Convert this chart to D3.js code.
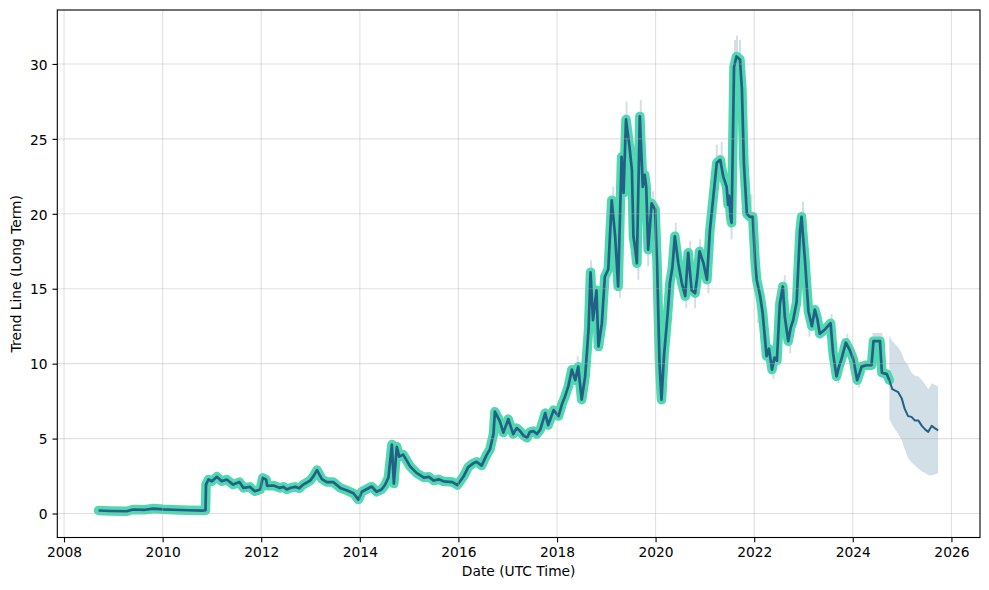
<!DOCTYPE html>
<html><head><meta charset="utf-8">
<script src="https://cdn.jsdelivr.net/npm/d3@7"></script>
<style>body{margin:0;background:#fff} text{font-family:"DejaVu Sans",sans-serif;}</style>
</head><body>
<svg id="c" width="989" height="590"></svg>
<script>
// ---- history (decimal year, value) ----
const years = [2008.70,2008.93,2009.27,2009.40,2009.64,2009.81,2010.01,2010.21,2010.52,2010.82,2010.87,
2010.88,2010.93,2011.00,2011.10,2011.20,2011.30,2011.43,2011.56,2011.64,2011.77,2011.87,2011.98,
2012.03,2012.10,2012.12,2012.25,2012.38,2012.45,2012.52,2012.60,2012.69,2012.77,2012.85,2012.99,2013.06,2013.13,2013.23,2013.33,
2013.46,2013.60,2013.73,2013.87,2013.97,2014.04,2014.24,2014.34,2014.44,2014.51,2014.58,2014.65,2014.69,
2014.75,2014.80,2014.88,2015.02,2015.15,2015.30,2015.40,2015.50,2015.60,2015.70,2015.88,2015.98,2016.10,2016.20,2016.30,2016.37,
2016.47,2016.57,2016.64,2016.71,2016.74,2016.84,2016.91,2017.01,2017.11,2017.18,2017.25,2017.32,2017.39,2017.45,2017.52,2017.59,2017.66,
2017.76,2017.82,2017.93,2018.03,2018.10,2018.16,2018.23,2018.30,2018.37,2018.43,2018.50,2018.57,2018.61,
2018.64,2018.68,2018.73,2018.80,2018.84,2018.91,2018.97,2019.04,2019.11,2019.18,2019.24,2019.31,2019.35,
2019.40,2019.47,2019.52,2019.55,2019.59,2019.62,2019.68,2019.74,2019.78,2019.81,2019.85,2019.92,2019.99,2020.03,2020.08,
2020.12,2020.17,2020.24,2020.29,2020.34,2020.39,2020.46,2020.53,2020.60,2020.66,2020.73,2020.80,2020.85,2020.89,2020.97,
2021.04,2021.10,2021.17,2021.24,2021.31,2021.37,2021.44,2021.47,2021.49,2021.52,2021.54,2021.59,2021.64,2021.71,2021.75,
2021.79,2021.85,2021.91,2021.97,2022.02,2022.05,2022.12,2022.17,2022.25,2022.30,2022.36,2022.41,2022.46,2022.52,2022.58,
2022.62,2022.69,2022.74,2022.79,2022.86,2022.93,2022.96,2023.03,2023.10,2023.17,2023.23,2023.28,2023.33,2023.44,2023.55,
2023.60,2023.67,2023.72,2023.77,2023.86,2023.94,2024.01,2024.09,2024.18,2024.28,2024.38,2024.42,2024.55,2024.59,
2024.69,2024.74];
const values = [0.2,0.17,0.15,0.27,0.25,0.33,0.28,0.25,0.22,0.2,0.22,
1.93,2.27,2.15,2.45,2.15,2.27,1.93,2.1,1.71,1.78,1.49,1.6,
2.38,2.27,1.85,1.87,1.71,1.78,1.6,1.72,1.78,1.68,1.93,2.2,2.5,2.9,2.3,2.1,
2.1,1.71,1.55,1.35,0.93,1.45,1.8,1.45,1.6,1.9,2.4,4.6,2.0,
4.45,3.8,3.93,3.15,2.71,2.4,2.45,2.2,2.28,2.15,2.1,1.9,2.45,3.1,3.35,3.45,
3.2,3.9,4.3,5.3,6.8,6.15,5.4,6.3,5.3,5.7,5.5,5.2,5.05,5.45,5.5,5.3,5.6,
6.7,5.9,6.9,6.5,7.3,7.8,8.5,9.6,8.9,9.8,7.6,9.15,10.9,
12.3,16.1,12.9,14.9,11.15,12.7,15.8,16.3,20.9,18.5,15.15,23.8,21.4,
26.3,24.5,22.9,18.5,17.6,16.7,26.5,21.8,22.6,21.8,17.6,20.7,20.3,16.7,10.0,
7.6,10.5,13.15,15.4,16.4,18.5,16.7,15.4,14.5,17.4,14.9,14.7,16.0,17.5,16.7,
15.6,18.9,21.15,23.4,23.6,22.5,21.8,20.6,21.2,19.8,19.4,29.8,30.5,30.3,28.3,
23.4,20.0,19.8,19.8,16.7,15.6,14.5,13.4,10.5,11.0,9.6,10.4,10.2,14.0,15.15,
13.15,11.5,12.4,12.9,14.1,18.9,19.8,16.9,13.5,12.5,13.6,13.0,12.0,12.3,12.7,
10.7,9.15,9.8,10.3,11.4,10.9,10.3,8.9,9.8,9.9,9.9,11.5,11.5,9.4,
9.3,8.9];

// ---- forecast ----
const fYears = [2024.74,2024.80,2024.86,2024.92,2024.99,2025.05,2025.12,2025.19,2025.26,2025.33,2025.40,2025.47,2025.53,2025.60,2025.66,2025.73];
const fValues = [8.9,8.3,8.2,8.1,7.7,7.0,6.5,6.45,6.2,6.2,5.85,5.6,5.45,5.85,5.7,5.55];
const fHigh = [11.9,11.5,11.3,11.1,10.7,10.2,9.9,9.4,9.2,9.15,8.9,8.6,8.3,8.7,8.6,8.5];
const fLow = [6.3,5.9,5.6,5.3,4.9,4.3,3.7,3.4,3.2,3.0,2.8,2.7,2.55,2.55,2.6,2.7];

// ---- visible uncertainty spikes in history ----
const spikeYears = [2018.42,2018.69,2019.14,2019.28,2019.41,2019.65,2019.70,2019.85,2019.95,2020.16,2020.41,2020.62,2020.70,2020.80,2020.90,2021.07,2021.24,2021.34,2021.54,2021.61,2021.65,2021.71,2021.94,2022.08,2022.39,2022.62,2022.73,2022.99,2023.12,2023.57,2023.71,2023.89,2024.13,2024.42,2024.46,2024.50,2024.54,2024.58];
const spikeLow = [9.5,15.5,20.5,14.4,25.5,15.6,25.5,16.5,20,7.27,18,13.7,16.5,13.7,17,14.7,23,23,18.3,29.5,30,29.5,19.5,12.7,9.0,14.5,10.7,19.5,11.8,12.3,8.7,11,8.4,11.3,11.3,11.3,11.3,11.3];
const spikeHigh = [10.5,16.9,21.8,15.5,27.5,17,27.6,18,21.5,8,19.4,14.8,18.2,15,18.3,16,24.6,24.8,19.5,31.6,31.9,31.6,21.3,14,10,15.9,12,20.8,13,13.3,9.5,12.0,9.2,12.05,12.05,12.05,12.05,12.05];

const xTicks = [2008,2010,2012,2014,2016,2018,2020,2022,2024,2026];
const yTicks = [0,5,10,15,20,25,30];

// ---- layout ----
const M = {l:57.3, r:980, t:10, b:537.5};
const lineCol = "#236086", greenCol = "#50d8b0", bandCol = "rgba(35,96,134,0.2)";
const FS = 13.8;

function toDate(v){const yr=Math.floor(v);const s=Date.UTC(yr,0,1),e=Date.UTC(yr+1,0,1);return new Date(s+(v-yr)*(e-s));}

const svg = d3.select("#c");
svg.append("rect").attr("width",989).attr("height",590).attr("fill","#fff");

const x = d3.scaleUtc().domain([toDate(2007.864),toDate(2026.58)]).range([M.l,M.r]);
const y = d3.scaleLinear().domain([-1.6,33.6]).range([M.b,M.t]);

svg.append("clipPath").attr("id","clip").append("rect")
  .attr("x",M.l).attr("y",M.t).attr("width",M.r-M.l).attr("height",M.b-M.t);
const plot = svg.append("g").attr("clip-path","url(#clip)");

const hist = years.map((t,i)=>({d:toDate(t),v:values[i]}));
const fc = fYears.map((t,i)=>({d:toDate(t),v:fValues[i],lo:fLow[i],hi:fHigh[i]}));
const spikes = spikeYears.map((t,i)=>({d:toDate(t),lo:spikeLow[i],hi:spikeHigh[i]}));

// band
plot.append("path").datum(fc)
  .attr("d", d3.area().x(d=>x(d.d)).y0(d=>y(d.lo)).y1(d=>y(d.hi)))
  .attr("fill",bandCol).attr("stroke","none");
plot.selectAll(".spike").data(spikes).join("line")
  .attr("x1",d=>x(d.d)).attr("x2",d=>x(d.d))
  .attr("y1",d=>y(d.lo)).attr("y2",d=>y(d.hi))
  .attr("stroke",bandCol).attr("stroke-width",2);

// grid
const grid = svg.append("g");
grid.selectAll(".gx").data(xTicks).join("line")
  .attr("x1",d=>x(toDate(d))).attr("x2",d=>x(toDate(d)))
  .attr("y1",M.t).attr("y2",M.b)
  .attr("stroke","#b0b0b0").attr("stroke-opacity",0.38).attr("stroke-width",1.1);
grid.selectAll(".gy").data(yTicks).join("line")
  .attr("y1",d=>y(d)).attr("y2",d=>y(d))
  .attr("x1",M.l).attr("x2",M.r)
  .attr("stroke","#b0b0b0").attr("stroke-opacity",0.38).attr("stroke-width",1.1);

// lines
const ln = d3.line().x(d=>x(d.d)).y(d=>y(d.v));
plot.append("path").datum(hist).attr("d",ln)
  .attr("fill","none").attr("stroke",greenCol).attr("stroke-width",9.5)
  .attr("stroke-linejoin","round").attr("stroke-linecap","round");
plot.append("path").datum(hist).attr("d",ln)
  .attr("fill","none").attr("stroke",lineCol).attr("stroke-width",2.7)
  .attr("stroke-linejoin","round");
plot.append("path").datum(fc).attr("d",ln)
  .attr("fill","none").attr("stroke",lineCol).attr("stroke-width",2)
  .attr("stroke-linejoin","round");

// axes
const xAxis = d3.axisBottom(x).tickValues(xTicks.map(toDate)).tickFormat(d3.utcFormat("%Y"))
  .tickSize(4.86).tickPadding(4.86);
const gx = svg.append("g").attr("transform",`translate(0,${M.b})`).call(xAxis);
const yAxis = d3.axisLeft(y).tickValues(yTicks).tickFormat(d3.format("d"))
  .tickSize(4.86).tickPadding(4.86);
const gy = svg.append("g").attr("transform",`translate(${M.l},0)`).call(yAxis);
[gx,gy].forEach(g=>{
  g.select(".domain").remove();
  g.selectAll(".tick line").attr("stroke","#000").attr("stroke-width",1.1);
  g.selectAll(".tick text").attr("fill","#000").style("font-size",FS+"px").style("font-family","DejaVu Sans");
});
gy.selectAll(".tick text").attr("dy","0.38em");

// spines
svg.append("rect").attr("x",M.l).attr("y",M.t).attr("width",M.r-M.l).attr("height",M.b-M.t)
  .attr("fill","none").attr("stroke","#000").attr("stroke-width",1.1);

// labels
svg.append("text").attr("x",(M.l+M.r)/2).attr("y",575.5).attr("text-anchor","middle")
  .style("font-size",FS+"px").text("Date (UTC Time)");
svg.append("text").attr("transform",`translate(20.5,${(M.t+M.b)/2}) rotate(-90)`)
  .attr("text-anchor","middle").style("font-size",FS+"px").text("Trend Line (Long Term)");
</script>
</body></html>
